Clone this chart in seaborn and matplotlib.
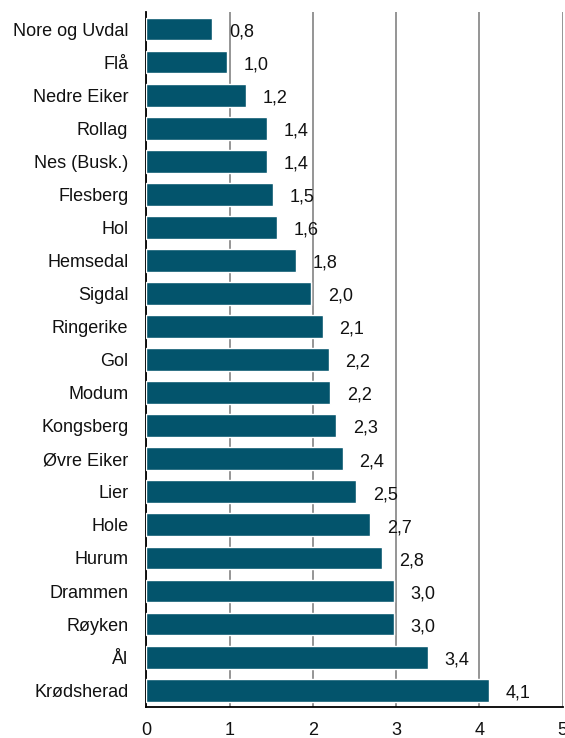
import pandas as pd
import matplotlib
matplotlib.use("Agg")
import matplotlib.pyplot as plt
import seaborn as sns

kommuner = ["Nore og Uvdal", "Flå", "Nedre Eiker", "Rollag", "Nes (Busk.)", "Flesberg",
            "Hol", "Hemsedal", "Sigdal", "Ringerike", "Gol", "Modum", "Kongsberg",
            "Øvre Eiker", "Lier", "Hole", "Hurum", "Drammen", "Røyken", "Ål", "Krødsherad"]
verdier = [0.79, 0.97, 1.20, 1.45, 1.45, 1.52, 1.57, 1.80, 1.98, 2.12, 2.19, 2.21,
           2.28, 2.36, 2.52, 2.69, 2.83, 2.97, 2.97, 3.38, 4.12]
etiketter = ["0,8", "1,0", "1,2", "1,4", "1,4", "1,5", "1,6", "1,8", "2,0", "2,1", "2,2",
             "2,2", "2,3", "2,4", "2,5", "2,7", "2,8", "3,0", "3,0", "3,4", "4,1"]
xticks = [0, 1, 2, 3, 4, 5]

df = pd.DataFrame({"kommune": kommuner, "verdi": verdier})

sns.set_style("white")
plt.rcParams["font.family"] = ["Liberation Sans", "DejaVu Sans"]
fs = 13

fig = plt.figure(figsize=(5.65, 7.38), dpi=100)
ax = fig.add_axes([0.259, 0.0424, 0.737, 0.9407])

sns.barplot(data=df, y="kommune", x="verdi", orient="h", color="#03546C",
            saturation=1, width=0.69, ax=ax, zorder=3)

for i, (v, lab) in enumerate(zip(verdier, etiketter)):
    ax.annotate(lab, (v, i), xytext=(12, -2), textcoords="offset points",
                ha="left", va="center", fontsize=fs, color="#111111")

ax.set_xlim(0, 5)
ax.set_ylim(len(kommuner) - 0.5, -0.5)
ax.set_xticks(xticks)
ax.set_xticklabels([str(t) for t in xticks])
ax.set_xlabel("")
ax.set_ylabel("")
ax.xaxis.grid(True, color="#8c8c8c", linewidth=1.3, zorder=0)
ax.yaxis.grid(False)
ax.set_axisbelow(True)
for s in ["top", "right"]:
    ax.spines[s].set_visible(False)
for s in ["left", "bottom"]:
    ax.spines[s].set_color("black")
    ax.spines[s].set_linewidth(1.3)
ax.tick_params(axis="y", length=0, pad=13, labelsize=fs, labelcolor="#111111")
ax.tick_params(axis="x", length=0, pad=11, labelsize=fs, labelcolor="#111111")

fig.savefig("out.png", dpi=100)
